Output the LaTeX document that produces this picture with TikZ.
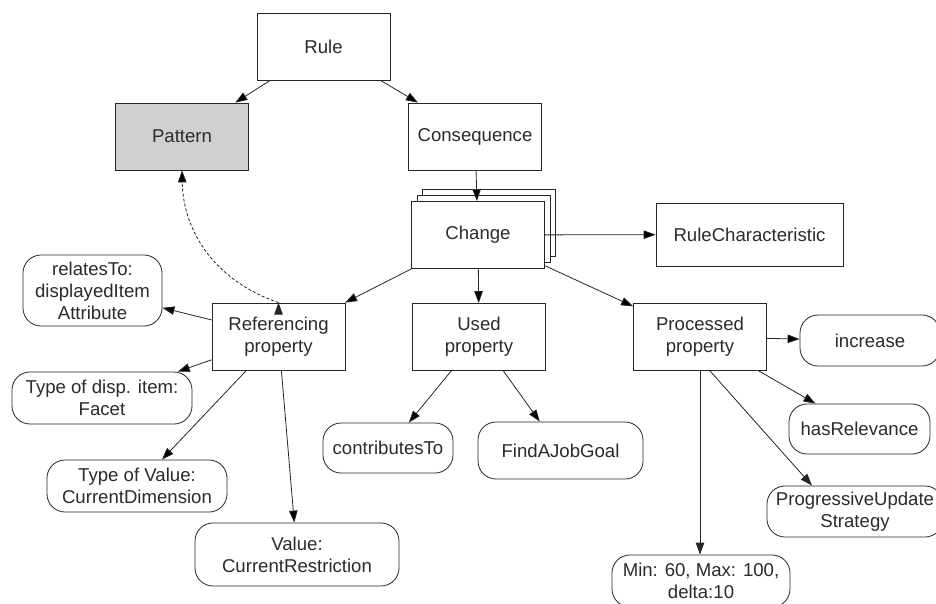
\documentclass[tikz,border=0pt]{standalone}
\usepackage{fontspec}
\setmainfont{Liberation Sans}
\usetikzlibrary{arrows.meta}
\definecolor{inkgray}{HTML}{2B2B2B}
\definecolor{patterngray}{HTML}{D0D0D0}

\begin{document}
\begin{tikzpicture}[x=1pt, y=-1pt,
    every node/.style={font=\fontsize{18.6}{22}\selectfont, text=inkgray, align=center, inner sep=0pt},
    box/.style={draw=black!85, line width=0.8pt, fill=white, minimum width=133pt, minimum height=67pt},
    pill/.style={draw=black!85, line width=0.8pt, rounded corners=18pt, fill=white},
    link/.style={-{Triangle[length=12pt,width=8.5pt]}, line width=0.8pt, draw=black!85}]
        \useasboundingbox (0,0) rectangle (936,603);
        \fill[white] (0,0) rectangle (936,603);

        \node[box] (rule) at (323.5,46.5) {Rule};
        \node[box, fill=patterngray] (pattern) at (182,136.5) {Pattern};
        \node[box] (cons) at (475,136.5) {Consequence};
        \node[box] (change3) at (488.5,222.5) {};
        \node[box] (change2) at (483.5,228.5) {};
        \node[box] (change) at (478,235) {Change};
        \node[box, minimum width=187pt, minimum height=63pt] (rulechar) at (749.5,234.5) {RuleCharacteristic};
        \node[box] (refprop) at (278.5,336.5) {Referencing\\property};
        \node[box] (usedprop) at (479,337) {Used\\property};
        \node[box] (procprop) at (700,337) {Processed\\property};

        \node[pill, minimum width=139pt, minimum height=71pt] (relates) at (92.5,290.5) {relatesTo:\\displayedItem\\Attribute};
        \node[pill, minimum width=180pt, minimum height=52pt] (disptype) at (102,398) {Type of disp. item:\\Facet};
        \node[pill, minimum width=180pt, minimum height=52pt] (valtype) at (137,486) {Type of Value:\\CurrentDimension};
        \node[pill, minimum width=204pt, minimum height=63pt] (value) at (297,554.5) {Value:\\CurrentRestriction};
        \node[pill, minimum width=130pt, minimum height=50pt] (contrib) at (388,448) {contributesTo};
        \node[pill, minimum width=165pt, minimum height=57pt] (findjob) at (560.5,450.5) {FindAJobGoal};
        \node[pill, minimum width=140pt, minimum height=51pt] (increase) at (870,340.5) {increase};
        \node[pill, minimum width=141pt, minimum height=50pt] (relevance) at (859.5,429) {hasRelevance};
        \node[pill, minimum width=176pt, minimum height=51pt] (strategy) at (855,511.5) {ProgressiveUpdate\\Strategy};
        \node[pill, minimum width=178pt, minimum height=52pt] (minmax) at (701,581) {Min: 60, Max: 100,\\delta:10};

        \path[link] (rule) edge (pattern);
        \path[link] (rule) edge (cons);
        \path[link] (cons) edge (change);
        \path[link] (change) edge (rulechar);
        \path[link] (change) edge (refprop);
        \path[link] (change) edge (usedprop);
        \path[link] (change) edge (procprop);
        \path[link, dash pattern=on 3pt off 2pt] (refprop.north) edge[bend left=35] (pattern.south);
        \path[link] (refprop) edge (relates);
        \path[link] (refprop) edge (disptype);
        \path[link] (refprop) edge (valtype);
        \path[link] (refprop) edge (value);
        \path[link] (usedprop) edge (contrib);
        \path[link] (usedprop) edge (findjob);
        \path[link] (procprop) edge (increase);
        \path[link] (procprop) edge (relevance);
        \draw[link] ([xshift=10pt]procprop.south) -- ([xshift=-43pt]strategy.north);
        \draw[link] (procprop.south) -- (procprop.south |- minmax.north);
    \end{tikzpicture}
\end{document}
